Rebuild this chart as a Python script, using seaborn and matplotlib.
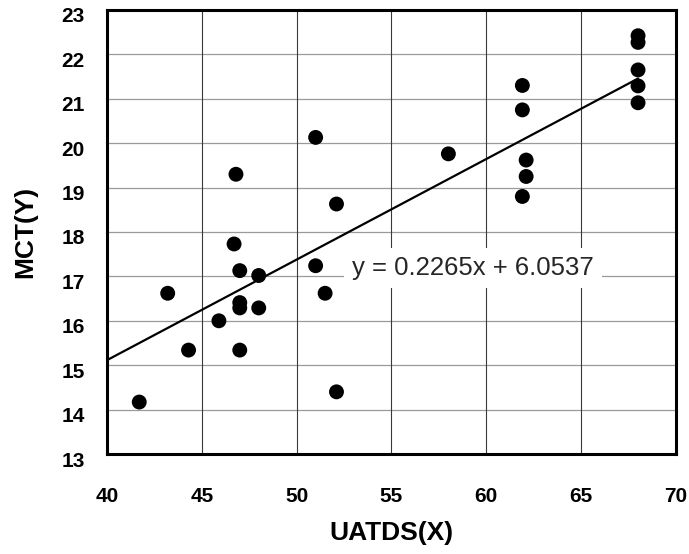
import matplotlib
matplotlib.use("Agg")
import matplotlib.pyplot as plt
import matplotlib.transforms as mtransforms
import pandas as pd
import seaborn as sns

# values
uatds = [51.0, 46.8, 52.1, 46.7, 47.0, 48.0, 51.0, 43.2, 51.5, 47.0, 47.0, 48.0,
         45.9, 44.3, 47.0, 52.1, 41.7, 58.0, 61.9, 61.9, 62.1, 62.1, 61.9,
         68.0, 68.0, 68.0, 68.0, 68.0]
mct = [20.13, 19.30, 18.63, 17.73, 17.13, 17.02, 17.24, 16.62, 16.62, 16.41, 16.29, 16.29,
       16.00, 15.34, 15.34, 14.40, 14.17, 19.76, 21.30, 20.75, 19.62, 19.25, 18.80,
       22.42, 22.27, 21.65, 21.29, 20.91]
slope = 0.2265
intercept = 6.0537
x_ticks = [40, 45, 50, 55, 60, 65, 70]
y_ticks = [13, 14, 15, 16, 17, 18, 19, 20, 21, 22, 23]

df = pd.DataFrame({"UATDS": uatds, "MCT": mct})
fit = pd.DataFrame({"x": [40, max(uatds)]})
fit["y"] = slope * fit["x"] + intercept

sns.set_style("white")
plt.rcParams["font.family"] = ["Liberation Sans", "DejaVu Sans"]

fig = plt.figure(figsize=(6.89, 5.54), dpi=100)
ax = fig.add_axes([0.1553, 0.1805, 0.8258, 0.8015])

# grid: light horizontal, darker vertical
for yv in y_ticks:
    ax.axhline(yv, color="#9a9a9a", lw=0.9, zorder=0)
for xv in x_ticks:
    ax.axvline(xv, color="#3a3a3a", lw=0.8, zorder=0)

sns.lineplot(data=fit, x="x", y="y", color="black", lw=1.6, ax=ax, zorder=2)
sns.scatterplot(data=df, x="UATDS", y="MCT", color="black", s=115,
                edgecolor="none", ax=ax, zorder=3)

ax.text(59.3, 17.19, "y = 0.2265x + 6.0537", fontsize=18.5, ha="center", va="center",
        bbox=dict(boxstyle="square,pad=0.3", fc="white", ec="none"), zorder=4)

ax.set_xlim(40, 70)
ax.set_ylim(13, 23)
ax.set_xticks(x_ticks)
ax.set_yticks(y_ticks)
ax.tick_params(length=0, labelsize=15, labelcolor="black")
ax.tick_params(axis="x", pad=24)
ax.tick_params(axis="y", pad=16)
for lab in ax.get_xticklabels() + ax.get_yticklabels():
    lab.set_fontweight("bold")
off = mtransforms.ScaledTranslation(0, -5 / 100, fig.dpi_scale_trans)
for lab in ax.get_yticklabels():
    lab.set_transform(lab.get_transform() + off)

for sp in ax.spines.values():
    sp.set_visible(True)
    sp.set_color("black")
    sp.set_linewidth(2.2)

ax.set_xlabel("UATDS(X)", fontsize=19, fontweight="bold", color="black")
ax.set_ylabel("MCT(Y)", fontsize=19, fontweight="bold", color="black")
ax.xaxis.set_label_coords(0.5, -0.152)
ax.yaxis.set_label_coords(-0.123, 0.5)

fig.savefig("out.png", dpi=100)
